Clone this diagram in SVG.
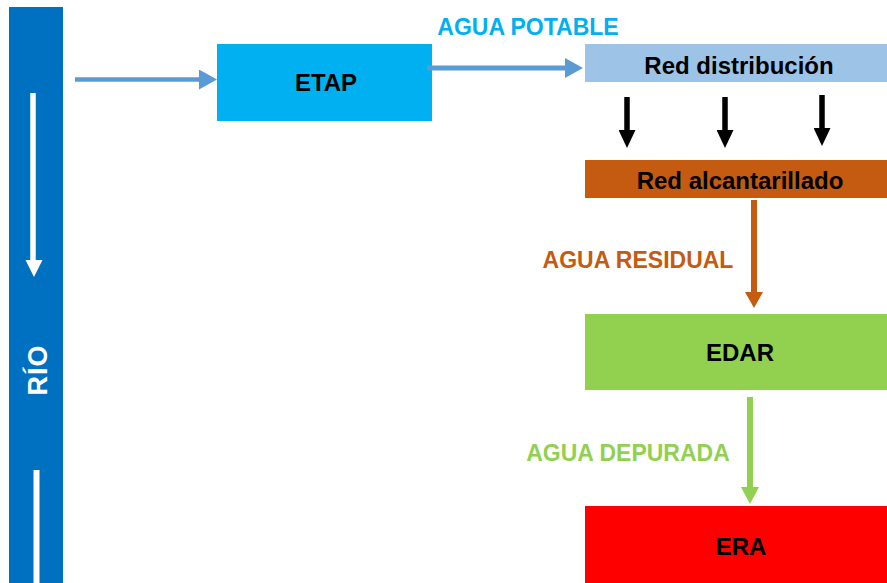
<svg xmlns="http://www.w3.org/2000/svg" width="887" height="583" viewBox="0 0 887 583">
  <style>
    .node-text { font-family: "Liberation Sans", Arial, sans-serif; font-weight: bold; font-size: 24px; fill: #000; text-anchor: middle; }
    .flow-label { font-family: "Liberation Sans", Arial, sans-serif; font-weight: bold; font-size: 23px; text-anchor: middle; }
    .river-text { font-family: "Liberation Sans", Arial, sans-serif; font-weight: bold; font-size: 27px; letter-spacing: 1px; fill: #fff; text-anchor: middle; }
  </style>
  <defs>
    <!-- arrowheads start at the end of each shaft (refX = 0) -->
    <marker id="head-blue" markerUnits="userSpaceOnUse" markerWidth="18" markerHeight="20" refX="0" refY="10" orient="auto">
      <path d="M0,0 L18,10 L0,20 Z" fill="#5B9BD5"/>
    </marker>
    <marker id="head-black" markerUnits="userSpaceOnUse" markerWidth="18" markerHeight="17" refX="0" refY="8.5" orient="auto">
      <path d="M0,0 L18,8.5 L0,17 Z" fill="#000"/>
    </marker>
    <marker id="head-brown" markerUnits="userSpaceOnUse" markerWidth="16" markerHeight="18" refX="0" refY="9" orient="auto">
      <path d="M0,0 L16,9 L0,18 Z" fill="#C55A11"/>
    </marker>
    <marker id="head-green" markerUnits="userSpaceOnUse" markerWidth="17" markerHeight="18" refX="0" refY="9" orient="auto">
      <path d="M0,0 L17,9 L0,18 Z" fill="#92D050"/>
    </marker>
  </defs>

  <rect width="887" height="583" fill="#fff"/>

  <!-- River -->
  <g id="rio">
    <rect x="9" y="7" width="54" height="576" fill="#0070C0"/>
    <line x1="33" y1="93" x2="33" y2="262" stroke="#fff" stroke-width="5.5"/>
    <polygon points="25.5,260 42.5,260 34,277" fill="#fff"/>
    <line x1="36.5" y1="470" x2="36.5" y2="583" stroke="#fff" stroke-width="6"/>
    <text class="river-text" transform="translate(47,370) rotate(-90)">RÍO</text>
  </g>

  <!-- Treatment plant -->
  <g id="etap">
    <rect x="217" y="44" width="215" height="77" fill="#00B0F0"/>
    <text class="node-text" x="326" y="91">ETAP</text>
  </g>

  <!-- Distribution network -->
  <g id="red-distribucion">
    <rect x="585" y="44" width="302" height="38" fill="#9DC3E6"/>
    <text class="node-text" x="739" y="74">Red distribución</text>
  </g>

  <!-- Sewer network -->
  <g id="red-alcantarillado">
    <rect x="585" y="160" width="302" height="38" fill="#C55A11"/>
    <text class="node-text" x="740" y="189">Red alcantarillado</text>
  </g>

  <!-- Wastewater plant -->
  <g id="edar">
    <rect x="585" y="314" width="302" height="76" fill="#92D050"/>
    <text class="node-text" x="740" y="361">EDAR</text>
  </g>

  <!-- Reuse station -->
  <g id="era">
    <rect x="585" y="506" width="302" height="77" fill="#FF0000"/>
    <text class="node-text" x="741" y="555">ERA</text>
  </g>

  <!-- Flow labels -->
  <g id="labels">
    <text class="flow-label" x="528" y="35" fill="#00B0F0">AGUA POTABLE</text>
    <text class="flow-label" x="638" y="268" fill="#C55A11">AGUA RESIDUAL</text>
    <text class="flow-label" x="628" y="461" fill="#92D050">AGUA DEPURADA</text>
  </g>

  <!-- Connectors -->
  <g id="connectors" fill="none">
    <line x1="75" y1="79.5" x2="199" y2="79.5" stroke="#5B9BD5" stroke-width="4.5" marker-end="url(#head-blue)"/>
    <line x1="427" y1="68" x2="565" y2="68" stroke="#5B9BD5" stroke-width="5" marker-end="url(#head-blue)"/>
    <line x1="627" y1="97" x2="627" y2="130" stroke="#000" stroke-width="5.5" marker-end="url(#head-black)"/>
    <line x1="725" y1="97" x2="725" y2="130" stroke="#000" stroke-width="5.5" marker-end="url(#head-black)"/>
    <line x1="822" y1="95" x2="822" y2="128" stroke="#000" stroke-width="5.5" marker-end="url(#head-black)"/>
    <line x1="754" y1="200" x2="754" y2="292" stroke="#C55A11" stroke-width="6" marker-end="url(#head-brown)"/>
    <line x1="750" y1="397" x2="750" y2="487" stroke="#92D050" stroke-width="6" marker-end="url(#head-green)"/>
  </g>
</svg>
